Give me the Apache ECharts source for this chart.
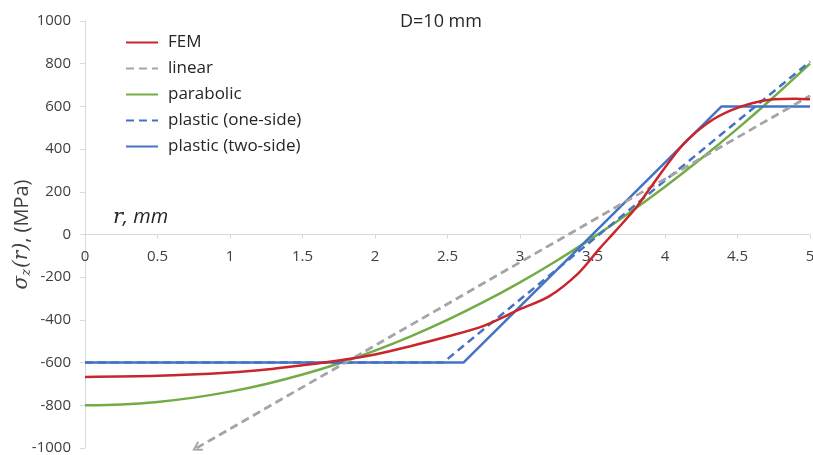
<!DOCTYPE html>
<html>
<head>
<meta charset="utf-8">
<script src="https://cdn.jsdelivr.net/npm/echarts@6/dist/echarts.min.js"></script>
<style>html,body{margin:0;padding:0;background:#fff;}#c{width:813px;height:455px;}</style>
</head>
<body>
<div id="c"></div>
<script>
// ---- data ----
const rFEM = [0, 0.5, 1, 1.25, 1.5, 1.75, 2, 2.25, 2.5, 2.75, 3, 3.2, 3.4, 3.55, 3.65, 3.8, 3.9, 4.05, 4.15, 4.3, 4.45, 4.6, 4.75, 4.9, 5];
const sFEM = [-667, -662, -646, -632, -612, -590, -562, -522, -478, -428, -350, -290, -183, -65, 10, 125, 220, 360, 440, 525, 580, 615, 633, 636, 633];
const rLinear = [0.77, 5];
const sLinear = [-1000, 650];
const rPara = [0, 0.25, 0.5, 0.75, 1, 1.25, 1.5, 1.75, 2, 2.25, 2.5, 2.75, 3, 3.25, 3.5, 3.75, 4, 4.25, 4.5, 4.75, 5];
const sPara = [-800, -796, -784, -764, -736, -700, -656, -604, -544, -476, -400, -316, -224, -124, -16, 100, 224, 356, 496, 644, 800];
const rOne = [0, 2.47, 5];
const sOne = [-600, -600, 810];
const rTwo = [0, 2.61, 4.39, 5];
const sTwo = [-600, -600, 600, 600];
const xTicks = {min: 0, max: 5, interval: 0.5};
const yTicks = {min: -1000, max: 1000, interval: 200};
const names = ['FEM', 'linear', 'parabolic', 'plastic (one-side)', 'plastic (two-side)'];
const titleText = 'D=10 mm';

const zip = (a, b) => a.map((v, i) => [v, b[i]]);
const FONT = '"Open Sans", sans-serif';
const axisCol = '#d9d9d9';
const txtCol = '#404040';

const W = 813, H = 455;
const G = {left: 85, right: 3, top: 21, bottom: 7};
const gridH = H - G.top - G.bottom;
// place the x axis on the zero line (labels included)
const zeroOffset = -gridH * (0 - yTicks.min) / (yTicks.max - yTicks.min);

const chart = echarts.init(document.getElementById('c'));
chart.setOption({
  animation: false,
  backgroundColor: '#fff',
  grid: Object.assign({containLabel: false, outerBoundsMode: 'none'}, G),
  legend: {
    orient: 'vertical', left: 125, top: 34, padding: 0,
    itemWidth: 32, itemHeight: 14, itemGap: 9,
    itemStyle: {color: 'rgba(0,0,0,0)', borderColor: 'rgba(0,0,0,0)', borderWidth: 0},
    textStyle: {fontFamily: FONT, fontSize: 17, color: '#262626', padding: [0, 0, 0, 5]},
    data: names
  },
  xAxis: {
    type: 'value', min: xTicks.min, max: xTicks.max, interval: xTicks.interval,
    position: 'bottom', offset: zeroOffset,
    axisLine: {onZero: false, lineStyle: {color: axisCol, width: 1}},
    axisTick: {show: true, length: 4, inside: false, lineStyle: {color: axisCol}},
    axisLabel: {margin: 15, fontFamily: FONT, fontSize: 15, color: txtCol, showMinLabel: true, showMaxLabel: true,
      formatter: v => String(v)},
    splitLine: {show: false}
  },
  yAxis: {
    type: 'value', min: yTicks.min, max: yTicks.max, interval: yTicks.interval,
    axisLine: {show: true, lineStyle: {color: axisCol, width: 1}},
    axisTick: {show: true, length: 5, lineStyle: {color: axisCol}},
    axisLabel: {margin: 14, fontFamily: FONT, fontSize: 15, color: txtCol, formatter: v => String(v)},
    splitLine: {show: false},
    name: '{s|σ}{z|z}{s|(r)}{n|, (MPa)}',
    nameLocation: 'middle', nameGap: 52, nameRotate: 90, nameMoveOverlap: false,
    nameTextStyle: {
      color: txtCol,
      rich: {
        s: {fontFamily: '"DejaVu Serif", serif', fontStyle: 'italic', fontSize: 20, color: txtCol},
        z: {fontFamily: '"DejaVu Serif", serif', fontStyle: 'italic', fontSize: 13, color: txtCol, padding: [9, 1, 0, 0]},
        n: {fontFamily: FONT, fontSize: 20, color: txtCol}
      }
    }
  },
  graphic: [{
    type: 'text', left: 113, top: 207,
    style: {
      text: '{r|r}{m|, mm}',
      rich: {
        r: {fontFamily: '"DejaVu Serif", serif', fontStyle: 'italic', fontSize: 21, fill: '#262626'},
        m: {fontFamily: FONT, fontStyle: 'italic', fontSize: 20, fill: '#262626'}
      }
    }
  }, {
    type: 'text', left: 400, top: 13,
    style: {text: titleText, font: '18px "Open Sans", sans-serif', fill: '#262626'}
  }],
  series: [
    {
      name: names[1], type: 'line', data: zip(rLinear, sLinear), symbol: 'none', z: 1,
      lineStyle: {color: '#a6a6a6', width: 2.5, type: [8, 5]},
      itemStyle: {color: '#a6a6a6'},
      markLine: {
        silent: true, symbol: ['path://M5,0 L10,9 L8.4,10 L5,3.4 L1.6,10 L0,9 Z', 'none'], symbolSize: [11, 10],
        label: {show: false},
        lineStyle: {color: '#a6a6a6', width: 2.5, type: [8, 5]},
        data: [[{coord: [rLinear[0], sLinear[0]]}, {coord: [rLinear[1], sLinear[1]]}]]
      }
    },
    {
      name: names[2], type: 'line', data: zip(rPara, sPara), symbol: 'none', smooth: 0.3, z: 2,
      lineStyle: {color: '#72ac46', width: 2.5}, itemStyle: {color: '#72ac46'}
    },
    {
      name: names[3], type: 'line', data: zip(rOne, sOne), symbol: 'none', z: 3,
      lineStyle: {color: '#4472c4', width: 2.5, type: [8, 5]}, itemStyle: {color: '#4472c4'}
    },
    {
      name: names[4], type: 'line', data: zip(rTwo, sTwo), symbol: 'none', z: 4,
      lineStyle: {color: '#4472c4', width: 2.5}, itemStyle: {color: '#4472c4'}
    },
    {
      name: names[0], type: 'line', data: zip(rFEM, sFEM), symbol: 'none', smooth: 0.3, z: 5,
      lineStyle: {color: '#c9252c', width: 2.5}, itemStyle: {color: '#c9252c'}
    }
  ]
});
</script>
</body>
</html>
